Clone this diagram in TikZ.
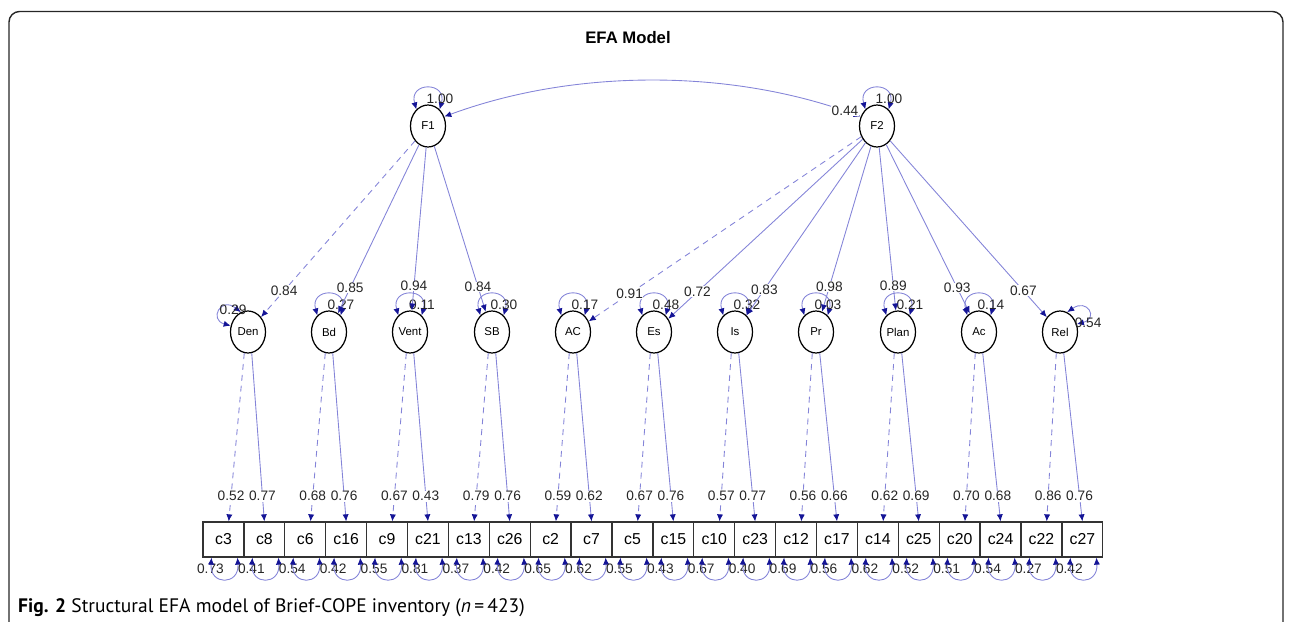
\documentclass[tikz,border=0pt]{standalone}
\usepackage{fontspec}
\setmainfont{Liberation Sans}
\newfontfamily\capfont{PT Sans}
\usepackage{xcolor}
\usepackage{tikz}
\usetikzlibrary{shapes,arrows.meta}
\definecolor{edgecol}{RGB}{132,132,216}
\definecolor{tipcol}{RGB}{20,20,150}
\tikzstyle{latent} = [ellipse, draw, line width=0.7pt, minimum width=0.7cm, minimum height=0.84cm, inner sep=0pt, font=\fontsize{6.5}{7}\selectfont]
\tikzstyle{item} = [rectangle, draw=black!80, line width=0.7pt, minimum width=0.818cm, minimum height=0.7cm, inner sep=0pt, font=\fontsize{9}{10}\selectfont]
\tikzstyle{line} = [draw=edgecol, line width=0.5pt, -{Latex[length=4pt,width=3.5pt,color=tipcol]}]
\tikzstyle{dline} = [line, dash pattern=on 3.4pt off 2.8pt]
\tikzstyle{var} = [draw=edgecol, line width=0.5pt, {Latex[length=4pt,width=3.5pt,color=tipcol]}-{Latex[length=4pt,width=3.5pt,color=tipcol]}]
\tikzstyle{load} = [fill=white, inner sep=0.3pt, font=\fontsize{7.8}{8}\selectfont, text=black!85]
\tikzstyle{resid} = [inner sep=0pt, font=\fontsize{7.8}{8}\selectfont, text=black!85]

\begin{document}
\begin{tikzpicture}[x=0.02cm,y=-0.02cm]
\useasboundingbox (0,0) rectangle (1292,622);
\draw [black!85, line width=0.8pt, rounded corners=6pt] (9,622) -- (9,11.5) -- (1283,11.5) -- (1283,622);
\node [font=\bfseries\fontsize{9.5}{10}\selectfont] (title) at (628,38) {EFA Model};
\node [latent] (F1) at (428,126) {F1};
\node [latent] (F2) at (877,126) {F2};
\foreach \n/\t/\x in {den/Den/248, bd/Bd/329, vent/Vent/410, sb/SB/492, acc/AC/573, es/Es/654, is/Is/735, pr/Pr/816, plan/Plan/898, act/Ac/979, rel/Rel/1060}
  \node [latent] (\n) at (\x,332) {\t};
\foreach \n [count=\i from 0] in {c3,c8,c6,c16,c9,c21,c13,c26,c2,c7,c5,c15,c10,c23,c12,c17,c14,c25,c20,c24,c22,c27}
  \node [item] (\n) at (223.45+40.9*\i,539.5) {\n};

\foreach \n/\v in {F1/1.00, F2/1.00, bd/0.27, vent/0.11, sb/0.30, acc/0.17, es/0.48, is/0.32, pr/0.03, plan/0.21, act/0.14} {
  \path [var] (\n.125) .. controls +(-8,-28) and +(8,-28) .. (\n.55);
  \node [resid] (v\n) at ([xshift=6.8pt,yshift=15.5pt]\n.center) {\v};
}
\path [var] (den.110) .. controls +(-20,-16) and +(-22,-6) .. (den.160);
\node [resid] (vden) at ([xshift=-8.5pt,yshift=12.5pt]den.center) {0.29};
\path [var] (rel.70) .. controls +(20,-14) and +(22,-6) .. (rel.25);
\node [resid] (vrel) at ([xshift=16pt,yshift=5pt]rel.center) {0.54};

\foreach \n/\v in {c3/0.73, c8/0.41, c6/0.54, c16/0.42, c9/0.55, c21/0.81, c13/0.37, c26/0.42, c2/0.65, c7/0.62, c5/0.55, c15/0.43, c10/0.67, c23/0.40, c12/0.69, c17/0.56, c14/0.62, c25/0.52, c20/0.51, c24/0.54, c22/0.27, c27/0.42} {
  \node [resid] (r\n) at ([xshift=-7.4pt,yshift=-6.3pt]\n.south) {\v};
  \path [var] ([xshift=-6.8pt]\n.south) .. controls +(-2,28) and +(2,28) .. ([xshift=8pt]\n.south);
}

\path [var] (F2.150) .. controls +(-130,-48) and +(130,-48) .. (F1.30);
\node [load] (cov) at ([xshift=-18.2pt,yshift=8.5pt]F2.center) {0.44};

\path [dline] (F1) -- node [load,pos=0.85] (lden) {0.84} (den);
\path [line] (F1) -- node [load,pos=0.85] (lbd) {0.85} (bd);
\path [line] (F1) -- node [load,pos=0.85] (lvent) {0.94} (vent);
\path [line] (F1) -- node [load,pos=0.85] (lsb) {0.84} (sb);
\path [dline] (F2) -- node [load,pos=0.85] (lacc) {0.91} (acc);
\path [line] (F2) -- node [load,pos=0.85] (les) {0.72} (es);
\path [line] (F2) -- node [load,pos=0.85] (lis) {0.83} (is);
\path [line] (F2) -- node [load,pos=0.85] (lpr) {0.98} (pr);
\path [line] (F2) -- node [load,pos=0.85] (lplan) {0.89} (plan);
\path [line] (F2) -- node [load,pos=0.85] (lact) {0.93} (act);
\path [line] (F2) -- node [load,pos=0.85] (lrel) {0.67} (rel);

\foreach \n/\a/\b/\p/\q in {den/c3/c8/0.52/0.77, bd/c6/c16/0.68/0.76, vent/c9/c21/0.67/0.43, sb/c13/c26/0.79/0.76, acc/c2/c7/0.59/0.62, es/c5/c15/0.67/0.76, is/c10/c23/0.57/0.77, pr/c12/c17/0.56/0.66, plan/c14/c25/0.62/0.69, act/c20/c24/0.70/0.68, rel/c22/c27/0.86/0.76} {
  \path [dline] (\n.260) -- node [load,pos=0.85] (l\a) {\p} ([xshift=3pt]\a.north);
  \path [line] (\n.280) -- node [load,pos=0.85] (l\b) {\q} (\b.north);
}

\node [anchor=base west, font=\capfont\fontsize{11.1}{13}\selectfont] (caption) at (12,612) {\textbf{Fig. 2} Structural EFA model of Brief-COPE inventory (\textit{n}\,=\,423)};
\end{tikzpicture}
\end{document}
